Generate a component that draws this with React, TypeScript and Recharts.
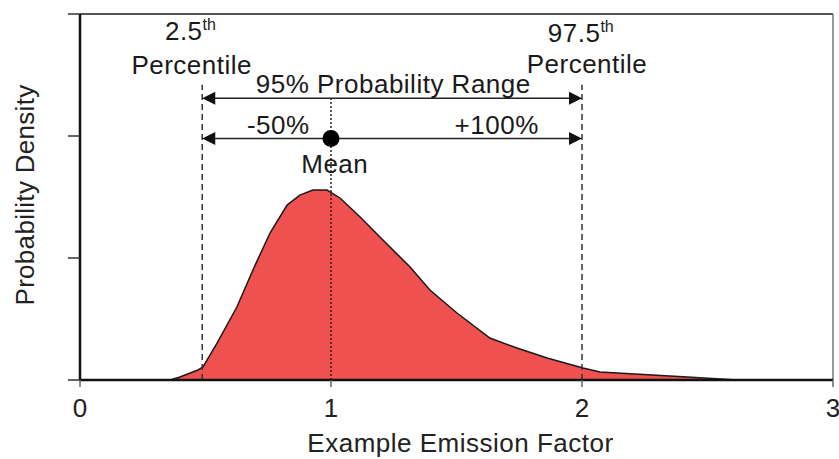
import React from 'react';
import { ComposedChart, Area, XAxis, YAxis, ReferenceLine, ReferenceDot, Label } from 'recharts';

const emissionFactor = [0, 0.359, 0.398, 0.47, 0.49, 0.546, 0.625, 0.689, 0.757, 0.825, 0.876, 0.928, 0.984, 1.036, 1.116, 1.195, 1.315, 1.394, 1.502, 1.633, 1.741, 1.861, 2.004, 2.072, 2.28, 2.42, 2.62, 3.0];
const density = [0, 0, 0.025, 0.082, 0.107, 0.303, 0.598, 0.902, 1.205, 1.434, 1.516, 1.557, 1.557, 1.492, 1.336, 1.172, 0.926, 0.738, 0.549, 0.344, 0.262, 0.18, 0.098, 0.066, 0.041, 0.025, 0, 0];
const xTicks = [0, 1, 2, 3];
const yTicks = [0, 1, 2, 3];

const lowerPercentile = 0.487;
const upperPercentile = 2.0;
const meanValue = 1.0;
const meanLevel = 1.98;
const rangeLevel = 2.31;
const percentileTop = 2.42;
const meanLineTop = 2.31;

const data = emissionFactor.map((x, i) => ({ x, y: density[i] }));

const FONT = '"Liberation Sans", Arial, sans-serif';

const EmptyTick = () => <g />;

const XTick = (props: any) => (
  <text x={props.x} y={props.y + 28} textAnchor="middle" fontSize={26} fill="#222" fontFamily={FONT}>
    {props.payload.value}
  </text>
);

const ArrowShape = (props: any) => {
  const { x1, y1, x2, y2 } = props;
  const len = 13;
  const hw = 6.5;
  return (
    <g>
      <line x1={x1 + len - 2} y1={y1} x2={x2 - len + 2} y2={y2} stroke="#222" strokeWidth={1.5} />
      <polygon points={`${x1},${y1} ${x1 + len},${y1 - hw} ${x1 + len},${y1 + hw}`} fill="#111" />
      <polygon points={`${x2},${y2} ${x2 - len},${y2 - hw} ${x2 - len},${y2 + hw}`} fill="#111" />
    </g>
  );
};

const textShape = (text: string, sup?: string) => (props: any) => (
  <text x={props.cx} y={props.cy} textAnchor="middle" fontSize={26} letterSpacing={0.5} fill="#1a1a1a" fontFamily={FONT}>
    {text}
    {sup ? (
      <tspan fontSize={16} dy={-10} letterSpacing={0}>
        {sup}
      </tspan>
    ) : null}
  </text>
);

export default function App() {
  return (
    <div style={{ position: 'absolute', left: 0, top: 0, width: 839, height: 459, background: '#fff', fontFamily: FONT }}>
      <ComposedChart width={839} height={459} data={data} margin={{ top: 14, right: 6, bottom: 0, left: 0 }}>
        <XAxis
          dataKey="x"
          type="number"
          domain={[0, 3]}
          ticks={xTicks}
          tickSize={7}
          tickLine={{ stroke: '#666', strokeWidth: 1.5 }}
          axisLine={{ stroke: '#111', strokeWidth: 2.5 }}
          tick={XTick}
          height={79}
          interval={0}
        >
          <Label
            content={(p: any) => (
              <text
                x={p.viewBox.x + p.viewBox.width / 2 + 4}
                y={p.viewBox.y + 72}
                textAnchor="middle"
                fontSize={26}
                letterSpacing={0.5}
                fill="#222"
                fontFamily={FONT}
              >
                Example Emission Factor
              </text>
            )}
          />
        </XAxis>
        <YAxis
          type="number"
          domain={[0, 3]}
          ticks={yTicks}
          tickSize={12}
          tick={EmptyTick}
          tickLine={{ stroke: '#333', strokeWidth: 1.5 }}
          axisLine={{ stroke: '#111', strokeWidth: 2.5 }}
          width={80}
          interval={0}
        >
          <Label
            content={(p: any) => {
              const cx = 34;
              const cy = p.viewBox.y + p.viewBox.height / 2 - 2;
              return (
                <text
                  x={cx}
                  y={cy}
                  transform={`rotate(-90 ${cx} ${cy})`}
                  textAnchor="middle"
                  fontSize={26}
                  letterSpacing={0.3}
                  fill="#222"
                  fontFamily={FONT}
                >
                  Probability Density
                </text>
              );
            }}
          />
        </YAxis>
        <Area
          type="linear"
          dataKey="y"
          stroke="#1a1a1a"
          strokeWidth={1.5}
          fill="#EF5050"
          fillOpacity={1}
          isAnimationActive={false}
          dot={false}
          activeDot={false}
        />
        <ReferenceLine y={3} stroke="#555" strokeWidth={2} />
        <ReferenceLine x={3} stroke="#777" strokeWidth={1.5} />
        <ReferenceLine
          segment={[{ x: lowerPercentile, y: 0 }, { x: lowerPercentile, y: percentileTop }]}
          stroke="#333"
          strokeWidth={1.5}
          strokeDasharray="6 4"
        />
        <ReferenceLine
          segment={[{ x: upperPercentile, y: 0 }, { x: upperPercentile, y: percentileTop }]}
          stroke="#333"
          strokeWidth={1.5}
          strokeDasharray="6 4"
        />
        <ReferenceLine
          segment={[{ x: meanValue, y: 0 }, { x: meanValue, y: meanLineTop }]}
          stroke="#3a1a1a"
          strokeWidth={1.5}
          strokeDasharray="2 2"
        />
        <ReferenceLine
          segment={[{ x: lowerPercentile, y: rangeLevel }, { x: upperPercentile, y: rangeLevel }]}
          shape={ArrowShape}
        />
        <ReferenceLine
          segment={[{ x: lowerPercentile, y: meanLevel }, { x: upperPercentile, y: meanLevel }]}
          shape={ArrowShape}
        />
        <ReferenceDot x={meanValue} y={meanLevel} r={8.5} fill="#000" stroke="none" />
        <ReferenceDot x={0.44} y={2.79} r={0} shape={textShape('2.5', 'th')} />
        <ReferenceDot x={0.445} y={2.51} r={0} shape={textShape('Percentile')} />
        <ReferenceDot x={1.995} y={2.77} r={0} shape={textShape('97.5', 'th')} />
        <ReferenceDot x={2.02} y={2.52} r={0} shape={textShape('Percentile')} />
        <ReferenceDot x={1.248} y={2.35} r={0} shape={textShape('95% Probability Range')} />
        <ReferenceDot x={0.79} y={2.02} r={0} shape={textShape('-50%')} />
        <ReferenceDot x={1.66} y={2.02} r={0} shape={textShape('+100%')} />
        <ReferenceDot x={1.015} y={1.7} r={0} shape={textShape('Mean')} />
      </ComposedChart>
    </div>
  );
}
